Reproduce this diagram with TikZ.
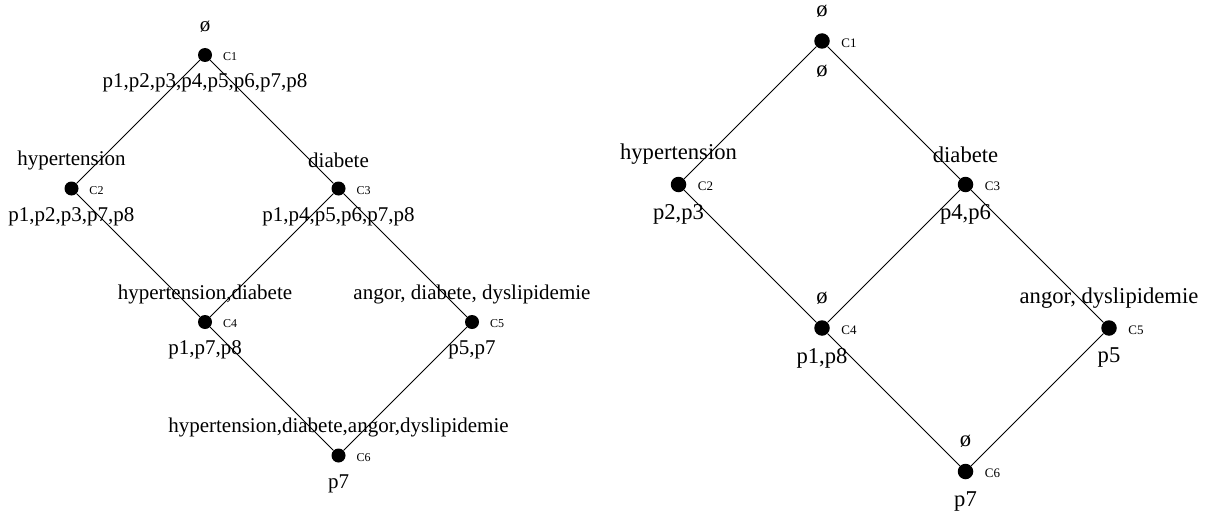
\documentclass[tikz,border=0pt]{standalone}
\usepackage{fontspec}
\setmainfont{Liberation Serif}
\usetikzlibrary{calc}
\begin{document}
\begin{tikzpicture}[x=1pt,y=-1pt,
  dotL/.style={circle,fill=black,inner sep=0pt,minimum size=14pt},
  dotR/.style={circle,fill=black,inner sep=0pt,minimum size=15.5pt},
  lblL/.style={inner sep=0pt,font=\fontsize{21}{24}\selectfont},
  lblR/.style={inner sep=0pt,font=\fontsize{22.6}{26}\selectfont},
  clL/.style={inner sep=0pt,font=\fontsize{12}{14}\selectfont},
  clR/.style={inner sep=0pt,font=\fontsize{13}{15}\selectfont},
  link/.style={draw=black,line width=0.9pt}]
\useasboundingbox (0,0) rectangle (1209,511);

% ---------- left lattice ----------
\node[dotL] (a1) at (205,55) {};
\node[dotL] (a2) at (71.5,188.5) {};
\node[dotL] (a3) at (338.5,188.5) {};
\node[dotL] (a4) at (205,322) {};
\node[dotL] (a5) at (472,322) {};
\node[dotL] (a6) at (338.5,455.5) {};
\draw[link] (a1) -- (a2);
\draw[link] (a1) -- (a3);
\draw[link] (a2) -- (a4);
\draw[link] (a3) -- (a4);
\draw[link] (a3) -- (a5);
\draw[link] (a4) -- (a6);
\draw[link] (a5) -- (a6);

\node[clL] (a1c) at ($(a1)+(25,2)$) {C1};
\node[clL] (a2c) at ($(a2)+(25,2)$) {C2};
\node[clL] (a3c) at ($(a3)+(25,2)$) {C3};
\node[clL] (a4c) at ($(a4)+(25,2)$) {C4};
\node[clL] (a5c) at ($(a5)+(25,2)$) {C5};
\node[clL] (a6c) at ($(a6)+(25,2)$) {C6};

\node[lblL] (a1t) at ($(a1)+(0,-28)$) {ø};
\node[lblL] (a1b) at ($(a1)+(0,28)$) {p1,p2,p3,p4,p5,p6,p7,p8};
\node[lblL] (a2t) at ($(a2)+(0,-28)$) {hypertension};
\node[lblL] (a2b) at ($(a2)+(0,28)$) {p1,p2,p3,p7,p8};
\node[lblL] (a3t) at ($(a3)+(0,-28)$) {diabete};
\node[lblL] (a3b) at ($(a3)+(0,28)$) {p1,p4,p5,p6,p7,p8};
\node[lblL] (a4t) at ($(a4)+(0,-28)$) {hypertension,diabete};
\node[lblL] (a4b) at ($(a4)+(0,28)$) {p1,p7,p8};
\node[lblL] (a5t) at ($(a5)+(0,-28)$) {angor, diabete, dyslipidemie};
\node[lblL] (a5b) at ($(a5)+(0,28)$) {p5,p7};
\node[lblL] (a6t) at ($(a6)+(0,-28)$) {hypertension,diabete,angor,dyslipidemie};
\node[lblL] (a6b) at ($(a6)+(0,28)$) {p7};

% ---------- right lattice ----------
\node[dotR] (b1) at (822,41) {};
\node[dotR] (b2) at (678.5,184.5) {};
\node[dotR] (b3) at (965.5,184.5) {};
\node[dotR] (b4) at (822,328) {};
\node[dotR] (b5) at (1109,328) {};
\node[dotR] (b6) at (965.5,471.5) {};
\draw[link] (b1) -- (b2);
\draw[link] (b1) -- (b3);
\draw[link] (b2) -- (b4);
\draw[link] (b3) -- (b4);
\draw[link] (b3) -- (b5);
\draw[link] (b4) -- (b6);
\draw[link] (b5) -- (b6);

\node[clR] (b1c) at ($(b1)+(27,2)$) {C1};
\node[clR] (b2c) at ($(b2)+(27,2)$) {C2};
\node[clR] (b3c) at ($(b3)+(27,2)$) {C3};
\node[clR] (b4c) at ($(b4)+(27,2)$) {C4};
\node[clR] (b5c) at ($(b5)+(27,2)$) {C5};
\node[clR] (b6c) at ($(b6)+(27,2)$) {C6};

\node[lblR] (b1t) at ($(b1)+(0,-30)$) {ø};
\node[lblR] (b1b) at ($(b1)+(0,30)$) {ø};
\node[lblR] (b2t) at ($(b2)+(0,-30)$) {hypertension};
\node[lblR] (b2b) at ($(b2)+(0,30)$) {p2,p3};
\node[lblR] (b3t) at ($(b3)+(0,-30)$) {diabete};
\node[lblR] (b3b) at ($(b3)+(0,30)$) {p4,p6};
\node[lblR] (b4t) at ($(b4)+(0,-30)$) {ø};
\node[lblR] (b4b) at ($(b4)+(0,30)$) {p1,p8};
\node[lblR] (b5t) at ($(b5)+(0,-30)$) {angor, dyslipidemie};
\node[lblR] (b5b) at ($(b5)+(0,30)$) {p5};
\node[lblR] (b6t) at ($(b6)+(0,-30)$) {ø};
\node[lblR] (b6b) at ($(b6)+(0,30)$) {p7};
\end{tikzpicture}
\end{document}
